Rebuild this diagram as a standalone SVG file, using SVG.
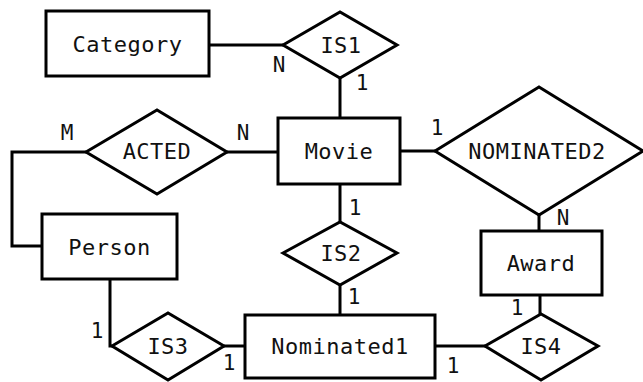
<svg xmlns="http://www.w3.org/2000/svg" width="643" height="382" viewBox="0 0 643 382">
  <style>
    .shape { fill: #ffffff; stroke: #000000; stroke-width: 3; stroke-linejoin: miter; }
    .link { fill: none; stroke: #000000; stroke-width: 3; }
    .name { font-family: "DejaVu Sans Mono", "Liberation Mono", monospace; font-size: 22px; letter-spacing: 0.5px; fill: #111111; text-anchor: middle; dominant-baseline: central; }
    .card { font-family: "DejaVu Sans Mono", "Liberation Mono", monospace; font-size: 21px; fill: #111111; text-anchor: middle; dominant-baseline: central; }
  </style>
  <rect width="643" height="382" fill="#ffffff"/>

  <!-- connectors -->
  <g id="connectors">
    <line class="link" x1="209" y1="45" x2="283" y2="45"/>
    <line class="link" x1="340" y1="78" x2="340" y2="118"/>
    <line class="link" x1="227" y1="152" x2="278" y2="152"/>
    <polyline class="link" points="86,152 12,152 12,246 42,246"/>
    <line class="link" x1="400" y1="151" x2="435" y2="151"/>
    <line class="link" x1="539" y1="215" x2="539" y2="231"/>
    <line class="link" x1="340" y1="184" x2="340" y2="222"/>
    <line class="link" x1="340" y1="285" x2="340" y2="315"/>
    <polyline class="link" points="110,279 110,346 112,346"/>
    <line class="link" x1="224" y1="346" x2="245" y2="346"/>
    <line class="link" x1="435" y1="346" x2="485" y2="346"/>
    <line class="link" x1="540" y1="295" x2="540" y2="314"/>
  </g>

  <!-- entities -->
  <g id="category">
    <rect class="shape" x="46" y="11" width="163" height="65"/>
    <text class="name" x="127.5" y="44">Category</text>
  </g>
  <g id="movie">
    <rect class="shape" x="278" y="118" width="122" height="66"/>
    <text class="name" x="339" y="151">Movie</text>
  </g>
  <g id="person">
    <rect class="shape" x="42" y="214" width="135" height="65"/>
    <text class="name" x="109.5" y="247">Person</text>
  </g>
  <g id="award">
    <rect class="shape" x="481" y="231" width="121" height="64"/>
    <text class="name" x="541" y="263">Award</text>
  </g>
  <g id="nominated1">
    <rect class="shape" x="245" y="315" width="190" height="63"/>
    <text class="name" x="340" y="346">Nominated1</text>
  </g>

  <!-- relationships -->
  <g id="is1">
    <polygon class="shape" points="283,45 340,12 397,45 340,78"/>
    <text class="name" x="341" y="45">IS1</text>
  </g>
  <g id="acted">
    <polygon class="shape" points="86,152 157,110 227,152 157,194"/>
    <text class="name" x="157" y="151">ACTED</text>
  </g>
  <g id="nominated2">
    <polygon class="shape" points="435,151 539,87 643,151 539,215"/>
    <text class="name" x="537" y="151">NOMINATED2</text>
  </g>
  <g id="is2">
    <polygon class="shape" points="283,253 340,222 397,253 340,285"/>
    <text class="name" x="341" y="253">IS2</text>
  </g>
  <g id="is3">
    <polygon class="shape" points="112,346 168,313 224,346 168,380"/>
    <text class="name" x="168" y="346">IS3</text>
  </g>
  <g id="is4">
    <polygon class="shape" points="485,346 541,314 598,346 541,380"/>
    <text class="name" x="541" y="346">IS4</text>
  </g>

  <!-- cardinalities -->
  <g id="cardinalities">
    <text class="card" x="279" y="65">N</text>
    <text class="card" x="362" y="83">1</text>
    <text class="card" x="67" y="133">M</text>
    <text class="card" x="243" y="133">N</text>
    <text class="card" x="437" y="128">1</text>
    <text class="card" x="355" y="208">1</text>
    <text class="card" x="563" y="218">N</text>
    <text class="card" x="354" y="297">1</text>
    <text class="card" x="97" y="331">1</text>
    <text class="card" x="229" y="363">1</text>
    <text class="card" x="517" y="308">1</text>
    <text class="card" x="453" y="366">1</text>
  </g>
</svg>
